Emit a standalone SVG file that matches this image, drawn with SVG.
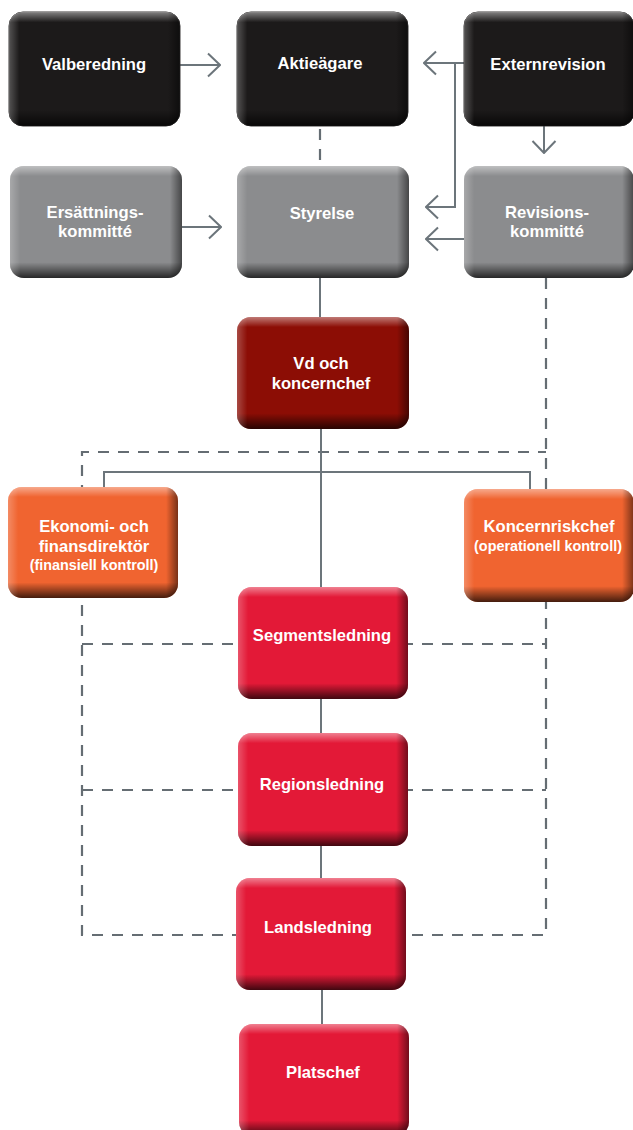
<svg xmlns="http://www.w3.org/2000/svg" width="633" height="1130" viewBox="0 0 633 1130">
<style>
.t{font-family:"Liberation Sans",Arial,sans-serif;font-weight:bold;fill:#fff;text-anchor:middle;font-size:16.6px}
.s{font-size:14.4px}
.ln{stroke:#6c757b;stroke-width:2;fill:none}
.dash{stroke:#656d73;stroke-width:2.2;fill:none;stroke-dasharray:11 9}
.blk{fill:#1c1a1a;stroke:#3a3838;stroke-width:1}
.gry{fill:#8b8c8e}
.vd{fill:#8c0d05}
.org{fill:#f06430}
.red{fill:#e31937}
.v{fill:url(#gv)}
.h{fill:url(#gh)}
</style>
<defs>
<linearGradient id="gv" x1="0" y1="0" x2="0" y2="1">
<stop offset="0" stop-color="#fff" stop-opacity="0.45"/>
<stop offset="0.09" stop-color="#fff" stop-opacity="0"/>
<stop offset="0.86" stop-color="#000" stop-opacity="0"/>
<stop offset="1" stop-color="#000" stop-opacity="0.72"/>
</linearGradient>
<linearGradient id="gh" x1="0" y1="0" x2="1" y2="0">
<stop offset="0" stop-color="#fff" stop-opacity="0.25"/>
<stop offset="0.06" stop-color="#fff" stop-opacity="0"/>
<stop offset="0.93" stop-color="#000" stop-opacity="0"/>
<stop offset="1" stop-color="#000" stop-opacity="0.5"/>
</linearGradient>
<marker id="ah" markerUnits="userSpaceOnUse" markerWidth="14" markerHeight="26" viewBox="0 0 14 26" refX="13" refY="13" orient="auto">
<path d="M1,1.5 L13,13 L1,24.5" fill="none" stroke="#6c757b" stroke-width="2"/>
</marker>
</defs>
<g id="connectors">
<path class="dash" d="M546,278 V935 H82 V452 H546"/>
<path class="dash" d="M82,644 H546 M82,790 H546"/>
<path class="dash" d="M320,129 V165"/>
<path class="ln" d="M180,65 H220" marker-end="url(#ah)"/>
<path class="ln" d="M182,227 H221" marker-end="url(#ah)"/>
<path class="ln" d="M464,63 H424" marker-end="url(#ah)"/>
<path class="ln" d="M455,63 V207 H426" marker-end="url(#ah)"/>
<path class="ln" d="M464,239 H426" marker-end="url(#ah)"/>
<path class="ln" d="M544,126 V153" marker-end="url(#ah)"/>
<path class="ln" d="M320,278 V318"/>
<path class="ln" d="M321,428 V588"/>
<path class="ln" d="M104,487 V472 H530 V490"/>
<path class="ln" d="M321,699 V734 M321,846 V878 M322,990 V1024"/>
</g>
<g id="valberedning">
<rect class="blk" x="9" y="12" width="171" height="114" rx="14"/>
<rect class="v" x="9" y="12" width="171" height="114" rx="14"/>
<rect class="h" x="9" y="12" width="171" height="114" rx="14"/>
<text class="t" x="94" y="70">Valberedning</text>
</g>
<g id="aktieagare">
<rect class="blk" x="237" y="12" width="171" height="114" rx="14"/>
<rect class="v" x="237" y="12" width="171" height="114" rx="14"/>
<rect class="h" x="237" y="12" width="171" height="114" rx="14"/>
<text class="t" x="320" y="69">Aktieägare</text>
</g>
<g id="externrevision">
<rect class="blk" x="464" y="12" width="170" height="114" rx="14"/>
<rect class="v" x="464" y="12" width="170" height="114" rx="14"/>
<rect class="h" x="464" y="12" width="170" height="114" rx="14"/>
<text class="t" x="548" y="70">Externrevision</text>
</g>
<g id="ersattningskommitte">
<rect class="gry" x="10" y="166" width="172" height="112" rx="14"/>
<rect class="v" x="10" y="166" width="172" height="112" rx="14"/>
<rect class="h" x="10" y="166" width="172" height="112" rx="14"/>
<text class="t" x="95" y="218">Ersättnings-</text>
<text class="t" x="95" y="237">kommitté</text>
</g>
<g id="styrelse">
<rect class="gry" x="237" y="166" width="172" height="112" rx="14"/>
<rect class="v" x="237" y="166" width="172" height="112" rx="14"/>
<rect class="h" x="237" y="166" width="172" height="112" rx="14"/>
<text class="t" x="322" y="219">Styrelse</text>
</g>
<g id="revisionskommitte">
<rect class="gry" x="464" y="166" width="170" height="112" rx="14"/>
<rect class="v" x="464" y="166" width="170" height="112" rx="14"/>
<rect class="h" x="464" y="166" width="170" height="112" rx="14"/>
<text class="t" x="547" y="218">Revisions-</text>
<text class="t" x="547" y="237">kommitté</text>
</g>
<g id="vd">
<rect class="vd" x="237" y="317" width="172" height="112" rx="14"/>
<rect class="v" x="237" y="317" width="172" height="112" rx="14"/>
<rect class="h" x="237" y="317" width="172" height="112" rx="14"/>
<text class="t" x="321" y="369">Vd och</text>
<text class="t" x="321" y="389">koncernchef</text>
</g>
<g id="ekonomi">
<rect class="org" x="8" y="487" width="170" height="111" rx="14"/>
<rect class="v" x="8" y="487" width="170" height="111" rx="14"/>
<rect class="h" x="8" y="487" width="170" height="111" rx="14"/>
<text class="t" x="94" y="532">Ekonomi- och</text>
<text class="t" x="94" y="552">finansdirektör</text>
<text class="t s" x="94" y="570">(finansiell kontroll)</text>
</g>
<g id="koncernriskchef">
<rect class="org" x="464" y="489" width="170" height="113" rx="14"/>
<rect class="v" x="464" y="489" width="170" height="113" rx="14"/>
<rect class="h" x="464" y="489" width="170" height="113" rx="14"/>
<text class="t" x="549" y="532">Koncernriskchef</text>
<text class="t s" x="548" y="551">(operationell kontroll)</text>
</g>
<g id="segmentsledning">
<rect class="red" x="238" y="587" width="170" height="112" rx="14"/>
<rect class="v" x="238" y="587" width="170" height="112" rx="14"/>
<rect class="h" x="238" y="587" width="170" height="112" rx="14"/>
<text class="t" x="322" y="641">Segmentsledning</text>
</g>
<g id="regionsledning">
<rect class="red" x="238" y="733" width="170" height="113" rx="14"/>
<rect class="v" x="238" y="733" width="170" height="113" rx="14"/>
<rect class="h" x="238" y="733" width="170" height="113" rx="14"/>
<text class="t" x="322" y="790">Regionsledning</text>
</g>
<g id="landsledning">
<rect class="red" x="236" y="878" width="170" height="112" rx="14"/>
<rect class="v" x="236" y="878" width="170" height="112" rx="14"/>
<rect class="h" x="236" y="878" width="170" height="112" rx="14"/>
<text class="t" x="318" y="933">Landsledning</text>
</g>
<g id="platschef">
<rect class="red" x="239" y="1024" width="170" height="112" rx="14"/>
<rect class="v" x="239" y="1024" width="170" height="112" rx="14"/>
<rect class="h" x="239" y="1024" width="170" height="112" rx="14"/>
<text class="t" x="323" y="1078">Platschef</text>
</g>
</svg>
